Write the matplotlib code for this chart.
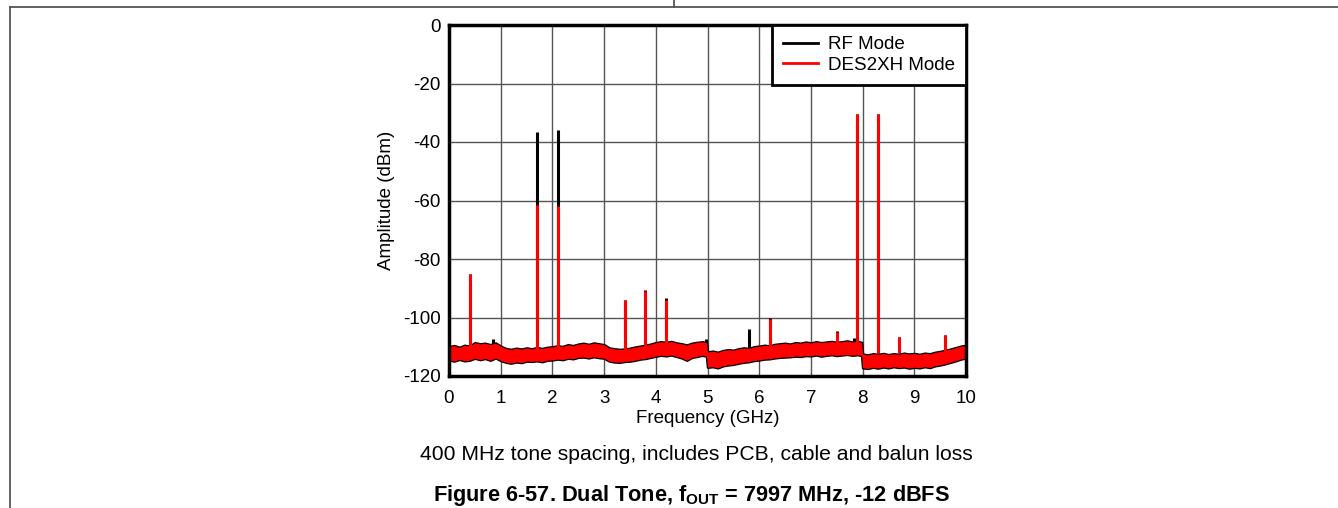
import matplotlib
matplotlib.use("Agg")
import matplotlib.pyplot as plt
from matplotlib.lines import Line2D

plt.rcParams['font.family'] = ['Liberation Sans', 'DejaVu Sans']
plt.rcParams['mathtext.fontset'] = 'custom'
plt.rcParams['mathtext.rm'] = 'Liberation Sans'
plt.rcParams['mathtext.bf'] = 'Liberation Sans:bold'
plt.rcParams['axes.unicode_minus'] = False

# ---- data ----
x_ticks = [0, 1, 2, 3, 4, 5, 6, 7, 8, 9, 10]
y_ticks = [0, -20, -40, -60, -80, -100, -120]

noise_freq = [0.0, 0.1, 0.2, 0.3, 0.4, 0.5, 0.6, 0.7, 0.8, 0.9,
              1.0, 1.1, 1.2, 1.3, 1.4, 1.5, 1.6, 1.7, 1.8, 1.9,
              2.0, 2.1, 2.2, 2.3, 2.4, 2.5, 2.6, 2.7, 2.8, 2.9,
              3.0, 3.1, 3.2, 3.3, 3.4, 3.5, 3.6, 3.7, 3.8, 3.9,
              4.0, 4.1, 4.2, 4.3, 4.4, 4.5, 4.6, 4.7, 4.8, 4.9, 4.98,
              5.0, 5.1, 5.2, 5.3, 5.4, 5.5, 5.6, 5.7, 5.8, 5.9,
              6.0, 6.1, 6.2, 6.3, 6.4, 6.5, 6.6, 6.7, 6.8, 6.9,
              7.0, 7.1, 7.2, 7.3, 7.4, 7.5, 7.6, 7.7, 7.8, 7.9, 7.98,
              8.0, 8.1, 8.2, 8.3, 8.4, 8.5, 8.6, 8.7, 8.8, 8.9,
              9.0, 9.1, 9.2, 9.3, 9.4, 9.5, 9.6, 9.7, 9.8, 9.9, 10.0]
noise_upper = [-110.0, -109.6, -110.2, -109.5, -109.8, -108.6, -109.0, -108.8, -109.3, -108.7,
               -109.8, -110.6, -110.9, -110.5, -110.8, -110.4, -110.7, -110.3, -110.6, -110.2,
               -110.0, -109.7, -109.9, -109.3, -109.6, -109.1, -108.8, -109.2, -108.7, -109.0,
               -109.3, -110.4, -110.7, -110.9, -110.8, -110.5, -110.1, -109.8, -109.5, -109.1,
               -108.6, -108.3, -108.5, -108.2, -108.7, -109.0, -109.4, -108.8, -108.5, -108.3, -108.6,
               -111.8, -111.5, -111.9, -111.3, -111.0, -111.2, -110.7, -110.4, -110.6, -110.0,
               -109.8, -109.5, -109.7, -109.2, -109.0, -108.8, -109.1, -108.6, -108.8, -108.4,
               -108.7, -108.3, -108.6, -108.4, -108.2, -108.5, -108.3, -108.0, -108.4, -108.2, -108.5,
               -112.5, -112.8, -112.4, -112.6, -112.3, -112.7, -112.4, -112.6, -112.2, -112.5,
               -112.3, -112.6, -112.2, -112.4, -111.9, -111.6, -111.2, -110.8, -110.3, -109.8, -109.5]
noise_lower = [-114.5, -114.9, -114.3, -114.8, -114.6, -113.9, -114.4, -114.0, -114.6, -113.8,
               -114.7, -115.3, -115.6, -115.2, -115.4, -114.9, -115.0, -114.8, -115.1, -114.6,
               -114.5, -114.2, -114.4, -113.9, -114.1, -113.6, -113.5, -113.8, -113.4, -113.7,
               -113.9, -114.9, -115.2, -115.3, -115.0, -114.9, -114.6, -114.2, -114.0, -113.6,
               -113.2, -112.9, -113.1, -112.8, -113.3, -113.8, -114.6, -113.6, -113.3, -112.9, -113.2,
               -117.0, -116.8, -117.2, -116.5, -116.2, -116.0, -115.6, -115.3, -115.1, -114.7,
               -114.5, -114.2, -114.1, -113.8, -113.6, -113.5, -113.4, -113.2, -113.3, -113.0,
               -113.1, -112.8, -113.2, -112.9, -112.7, -113.0, -112.8, -112.6, -112.9, -112.7, -113.0,
               -117.2, -117.4, -117.0, -117.3, -116.9, -117.2, -116.8, -117.1, -116.9, -117.3,
               -117.0, -117.2, -116.8, -117.1, -116.5, -116.2, -115.8, -115.3, -114.8, -114.2, -113.8]

rf_spur_freq = [0.4, 0.85, 1.7, 2.1, 3.4, 3.8, 4.2, 4.97, 5.8, 6.2, 7.5, 7.84, 7.9, 8.3, 8.7, 9.6]
rf_spur_amp = [-85, -107.5, -36.5, -36.0, -94, -90.5, -93.5, -107.5, -104, -100, -104.5, -107, -30.5, -30.5, -106.5, -106]
des_spur_freq = [0.4, 1.7, 2.1, 3.4, 3.8, 4.2, 6.2, 7.5, 7.9, 8.3, 8.7, 9.6]
des_spur_amp = [-85, -61.5, -62.0, -94, -91, -94, -100.5, -105, -30.5, -30.5, -106.5, -106]
spur_base = -112

# ---- figure ----
fig = plt.figure(figsize=(13.38, 5.08), dpi=100)
ax = fig.add_axes([449/1338, 1-376/508, (966-449)/1338, (376-25)/508])

# RF mode (black)
ax.fill_between(noise_freq, noise_lower, noise_upper, color='black', lw=1.8, edgecolor='black', zorder=2)
ax.vlines(rf_spur_freq, spur_base, rf_spur_amp, color='black', lw=2.2, zorder=2)
# DES2XH mode (red)
ax.fill_between(noise_freq, noise_lower, noise_upper, color='#ff0000', lw=0, zorder=3)
ax.vlines(des_spur_freq, spur_base, des_spur_amp, color='#ff0000', lw=2.2, zorder=3)

ax.set_xlim(0, 10)
ax.set_ylim(-120, 0)
ax.set_xticks(x_ticks)
ax.set_yticks(y_ticks)
ax.tick_params(length=0, labelsize=13.5)
ax.tick_params(axis='x', pad=10)
ax.tick_params(axis='y', pad=6)
ax.grid(True, color='#555555', lw=1.0)
ax.set_axisbelow(True)
for s in ax.spines.values():
    s.set_linewidth(2.5)
    s.set_color('black')
    s.set_zorder(5)

ax.set_xlabel('Frequency (GHz)', fontsize=13.5, labelpad=2)
ax.set_ylabel('Amplitude (dBm)', fontsize=13.5, labelpad=6)

handles = [Line2D([], [], color='black', lw=2), Line2D([], [], color='#ff0000', lw=2)]
leg = ax.legend(handles, ['RF Mode', 'DES2XH Mode'], loc='upper right', fontsize=13.5,
                fancybox=False, borderaxespad=0, framealpha=1, handlelength=1.9,
                handletextpad=0.5, borderpad=0.6, labelspacing=0.18)
leg.get_frame().set_edgecolor('black')
leg.get_frame().set_linewidth(2)
leg.set_zorder(6)

fig.text(0.5205, 1-455/508, '400 MHz tone spacing, includes PCB, cable and balun loss',
         ha='center', va='center', fontsize=15.2)
fig.text(0.517, 1-496/508, r'Figure 6-57. Dual Tone, f$_{\mathbf{OUT}}$ = 7997 MHz, -12 dBFS',
         ha='center', va='center', fontsize=15.7, fontweight='bold')

# page rules
lc = '#555555'
fig.add_artist(Line2D([9.5/1338, 1], [1-6.5/508, 1-6.5/508], color=lc, lw=1.3, transform=fig.transFigure))
fig.add_artist(Line2D([9.5/1338, 9.5/1338], [0, 1-6.5/508], color=lc, lw=1.3, transform=fig.transFigure))
fig.add_artist(Line2D([674/1338, 674/1338], [1-6.5/508, 1], color=lc, lw=1.3, transform=fig.transFigure))

fig.savefig('out.png', dpi=100)
